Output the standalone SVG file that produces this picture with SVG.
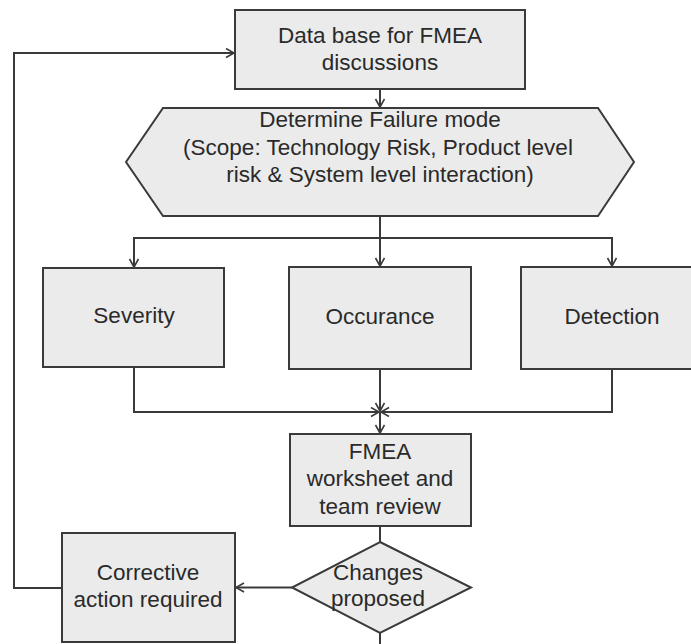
<svg xmlns="http://www.w3.org/2000/svg" width="691" height="644" viewBox="0 0 691 644">
<defs>
<style>
.n{fill:#ebebeb;stroke:#3a3a3a;stroke-width:2}
.c{fill:none;stroke:#3a3a3a;stroke-width:2}
text{font-family:"Liberation Sans",Arial,sans-serif;font-size:22.5px;fill:#2a2a2a;text-anchor:middle}
</style>
<marker id="ah" markerUnits="userSpaceOnUse" markerWidth="12" markerHeight="12" refX="9" refY="5" orient="auto">
<path d="M1,0.5 L9,5 L1,9.5" fill="none" stroke="#3a3a3a" stroke-width="1.6"/>
</marker>
</defs>
<rect width="691" height="644" fill="#ffffff"/>
<g id="connectors">
<path class="c" d="M380,89 V107" marker-end="url(#ah)"/>
<path class="c" d="M380,216 V238 H134 V267" marker-end="url(#ah)"/>
<path class="c" d="M380,238 V266" marker-end="url(#ah)"/>
<path class="c" d="M380,238 H612 V266" marker-end="url(#ah)"/>
<path class="c" d="M134,367 V412 H379" marker-end="url(#ah)"/>
<path class="c" d="M612,369 V412 H381" marker-end="url(#ah)"/>
<path class="c" d="M380,369 V411" marker-end="url(#ah)"/>
<path class="c" d="M380,412 V433" marker-end="url(#ah)"/>
<path class="c" d="M380,526 V542"/>
<path class="c" d="M292,587.5 H236" marker-end="url(#ah)"/>
<path class="c" d="M62,588 H14 V53 H234" marker-end="url(#ah)"/>
<path class="c" d="M380,633 V644"/>
</g>
<g id="database">
<rect class="n" x="235" y="10" width="290" height="79"/>
<text x="380" y="42.5">Data base for FMEA</text>
<text x="380" y="70">discussions</text>
</g>
<g id="failuremode">
<polygon class="n" points="126,162 163,108 598,108 634,162 598,216 163,216"/>
<text x="380" y="127">Determine Failure mode</text>
<text x="378" y="154.5">(Scope: Technology Risk, Product level</text>
<text x="380" y="182">risk &amp; System level interaction)</text>
</g>
<g id="severity">
<rect class="n" x="43" y="268" width="181" height="99"/>
<text x="134" y="323">Severity</text>
</g>
<g id="occurance">
<rect class="n" x="289" y="267" width="182" height="102"/>
<text x="380" y="324">Occurance</text>
</g>
<g id="detection">
<rect class="n" x="521" y="267" width="182" height="102"/>
<text x="612" y="324">Detection</text>
</g>
<g id="worksheet">
<rect class="n" x="290" y="434" width="181" height="92"/>
<text x="380" y="458.5">FMEA</text>
<text x="380" y="486">worksheet and</text>
<text x="380" y="513.5">team review</text>
</g>
<g id="changes">
<polygon class="n" points="380,542 471,587.5 380,633 292,587.5"/>
<text x="378" y="580">Changes</text>
<text x="378" y="606">proposed</text>
</g>
<g id="corrective">
<rect class="n" x="62" y="533" width="173" height="109"/>
<text x="148" y="580">Corrective</text>
<text x="148" y="607">action required</text>
</g>
</svg>
